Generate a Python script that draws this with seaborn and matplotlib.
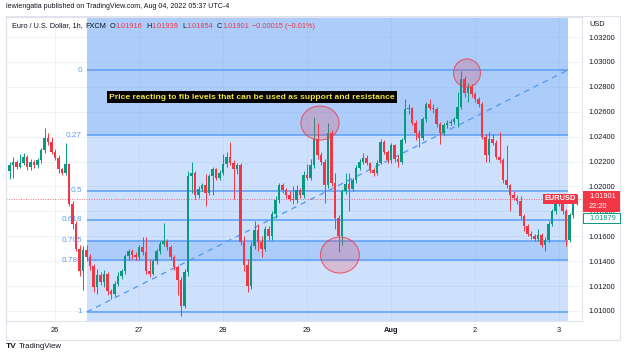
import numpy as np
import pandas as pd
import matplotlib
matplotlib.use("Agg")
import matplotlib.pyplot as plt
from matplotlib.patches import Ellipse, Rectangle
import seaborn as sns

# EURUSD 1h (FXCM), Jul 25 10:00 -> Aug 3 05:00 UTC-4, weekend hours skipped.
# bar index 0 = Jul 26 00:00, 24 bars per day
first_index = -14
first_open = 1.0240
closes = [
    1.0212, 1.0217, 1.0220, 1.0216, 1.0219, 1.0224, 1.0216, 1.0220, 1.0217, 1.0221,
    1.0229, 1.0239, 1.0236, 1.0228, 1.0223, 1.0214, 1.0211, 1.0218, 1.0186, 1.0170,
    1.0150, 1.0132, 1.0149, 1.0143, 1.0136, 1.0119, 1.0129, 1.0123, 1.0130, 1.0116,
    1.0114, 1.0122, 1.0128, 1.0132, 1.0144, 1.0148, 1.0145, 1.0143, 1.0151, 1.0147,
    1.0132, 1.0130, 1.0140, 1.0148, 1.0154, 1.0156, 1.0151, 1.0143, 1.0135, 1.0125,
    1.0104, 1.0131, 1.0208, 1.0211, 1.0193, 1.0198, 1.0201, 1.0195, 1.0208, 1.0214,
    1.0207, 1.0211, 1.0218, 1.0224, 1.0219, 1.0214, 1.0217, 1.0155, 1.0137, 1.0120,
    1.0152, 1.0165, 1.0155, 1.0150, 1.0166, 1.0160, 1.0178, 1.0189, 1.0201, 1.0197,
    1.0193, 1.0190, 1.0189, 1.0197, 1.0193, 1.0209, 1.0207, 1.0217, 1.0238, 1.0225,
    1.0220, 1.0201, 1.0243, 1.0203, 1.0175, 1.0160, 1.0196, 1.0202, 1.0198, 1.0205,
    1.0215, 1.0220, 1.0223, 1.0219, 1.0213, 1.0211, 1.0219, 1.0236, 1.0228, 1.0221,
    1.0233, 1.0222, 1.0220, 1.0237, 1.0262, 1.0263, 1.0251, 1.0243, 1.0239, 1.0254,
    1.0266, 1.0263, 1.0262, 1.0250, 1.0243, 1.0249, 1.0251, 1.0252, 1.0254, 1.0264,
    1.0286, 1.0275, 1.0280, 1.0274, 1.0270, 1.0266, 1.0240, 1.0225, 1.0238, 1.0235,
    1.0224, 1.0221, 1.0205, 1.0201, 1.0193, 1.0191, 1.0188, 1.0176, 1.0168, 1.0162,
    1.0160, 1.0158, 1.0161, 1.0153, 1.0157, 1.0170, 1.0180, 1.0186, 1.0190, 1.0180,
    1.0157, 1.0177, 1.01916, 1.01901,
]
highs = [
    1.0249, 1.0220, 1.0224, 1.0221, 1.0226, 1.0227, 1.0225, 1.0222, 1.0221, 1.0223,
    1.0231, 1.0247, 1.0243, 1.0240, 1.0230, 1.0225, 1.0215, 1.0235, 1.0219, 1.0188,
    1.0172, 1.0153, 1.0152, 1.0153, 1.0146, 1.0138, 1.0134, 1.0131, 1.0133, 1.0131,
    1.0118, 1.0124, 1.0131, 1.0134, 1.0146, 1.0150, 1.0150, 1.0147, 1.0153, 1.0159,
    1.0159, 1.0141, 1.0142, 1.0150, 1.0156, 1.0171, 1.0158, 1.0153, 1.0145, 1.0137,
    1.0127, 1.0134, 1.0212, 1.0220, 1.0212, 1.0200, 1.0203, 1.0210, 1.0210, 1.0216,
    1.0215, 1.0213, 1.0226, 1.0228, 1.0236, 1.0221, 1.0219, 1.0219, 1.0160, 1.0142,
    1.0155, 1.0172, 1.0170, 1.0160, 1.0168, 1.0168, 1.0180, 1.0192, 1.0203, 1.0203,
    1.0199, 1.0196, 1.0200, 1.0201, 1.0199, 1.0212, 1.0218, 1.0222, 1.0256, 1.0251,
    1.0228, 1.0222, 1.0251, 1.0245, 1.0211, 1.0177, 1.0198, 1.0211, 1.0211, 1.0207,
    1.0217, 1.0222, 1.0227, 1.0225, 1.0220, 1.0215, 1.0221, 1.0238, 1.0237, 1.0229,
    1.0235, 1.0234, 1.0225, 1.0239, 1.0270, 1.0266, 1.0264, 1.0253, 1.0245, 1.0256,
    1.0268, 1.0270, 1.0266, 1.0264, 1.0252, 1.0251, 1.0253, 1.0254, 1.0256, 1.0276,
    1.0293, 1.0289, 1.0283, 1.0282, 1.0276, 1.0272, 1.0268, 1.0242, 1.0244, 1.0242,
    1.0237, 1.0244, 1.0223, 1.0233, 1.0202, 1.0196, 1.0193, 1.0192, 1.0178, 1.0170,
    1.0164, 1.0162, 1.0166, 1.0163, 1.0159, 1.0172, 1.0182, 1.0188, 1.0192, 1.0191,
    1.0182, 1.0179, 1.0193, 1.01939,
]
lows = [
    1.0204, 1.0206, 1.0207, 1.0214, 1.0215, 1.0217, 1.0213, 1.0213, 1.0215, 1.0215,
    1.0219, 1.0227, 1.0233, 1.0226, 1.0221, 1.0211, 1.0209, 1.0209, 1.0184, 1.0166,
    1.0148, 1.0128, 1.0117, 1.0140, 1.0133, 1.0115, 1.0114, 1.0121, 1.0119, 1.0113,
    1.0110, 1.0112, 1.0120, 1.0126, 1.0130, 1.0141, 1.0142, 1.0141, 1.0141, 1.0145,
    1.0130, 1.0127, 1.0129, 1.0138, 1.0146, 1.0152, 1.0149, 1.0141, 1.0133, 1.0113,
    1.0096, 1.0102, 1.0128, 1.0195, 1.0190, 1.0191, 1.0196, 1.0184, 1.0193, 1.0193,
    1.0205, 1.0205, 1.0209, 1.0216, 1.0217, 1.0190, 1.0210, 1.0153, 1.0132, 1.0115,
    1.0118, 1.0150, 1.0148, 1.0143, 1.0148, 1.0157, 1.0157, 1.0175, 1.0187, 1.0195,
    1.0191, 1.0188, 1.0186, 1.0187, 1.0191, 1.0191, 1.0205, 1.0205, 1.0215, 1.0222,
    1.0217, 1.0187, 1.0199, 1.0200, 1.0166, 1.0147, 1.0153, 1.0194, 1.0180, 1.0196,
    1.0203, 1.0213, 1.0218, 1.0217, 1.0211, 1.0208, 1.0209, 1.0218, 1.0226, 1.0219,
    1.0219, 1.0220, 1.0216, 1.0218, 1.0235, 1.0258, 1.0249, 1.0237, 1.0232, 1.0237,
    1.0252, 1.0261, 1.0259, 1.0248, 1.0234, 1.0241, 1.0247, 1.0249, 1.0250, 1.0248,
    1.0262, 1.0272, 1.0268, 1.0272, 1.0268, 1.0264, 1.0238, 1.0220, 1.0220, 1.0233,
    1.0222, 1.0219, 1.0203, 1.0199, 1.0180, 1.0189, 1.0186, 1.0174, 1.0164, 1.0160,
    1.0158, 1.0156, 1.0156, 1.0151, 1.0148, 1.0155, 1.0168, 1.0178, 1.0184, 1.0178,
    1.0152, 1.0155, 1.0175, 1.01854,
]

day_ticks = [0, 24, 48, 72, 96, 120, 144]
day_labels = ["26", "27", "28", "29", "Aug", "2", "3"]
price_ticks = [1.010, 1.012, 1.014, 1.016, 1.018, 1.020, 1.022, 1.024, 1.026, 1.028, 1.030, 1.032]

# fib retracement drawing (anchors in bar index / price)
fib_start, fib_end = 9.06, 146.6
fib_low, fib_high = 1.00992, 1.02935
fib_levels = [0, 0.27, 0.5, 0.618, 0.705, 0.786, 1]
fib_labels = ["0", "0.27", "0.5", "0.618", "0.705", "0.786", "1"]

# circles drawn on the chart: (bar, price, width in bars, height in price)
circles = [(75.7, 1.02509, 10.9, 0.00273),
           (81.4, 1.01449, 11.1, 0.00289),
           (117.7, 1.02911, 7.7, 0.00225)]
note = "Price reacting to fib levels that can be used as support and resistance"

GREEN = "#089981"
RED = "#f23645"
FIB = "#5b9cf6"
DARK = "#131722"
GRID = "#eef0f5"
FRAME = "#e0e3eb"

sns.set_theme(style="white")
plt.rcParams["font.family"] = ["Liberation Sans", "DejaVu Sans"]

W, H = 624, 356
def fx(px):
    return px / W
def fy(py):
    return 1 - py / H

fig = plt.figure(figsize=(W / 100, H / 100), dpi=100)
ax = fig.add_axes([fx(6), fy(321), (582 - 6) / W, (321 - 17) / H])
ax.set_facecolor("white")

# candles
idx = np.arange(first_index, first_index + len(closes))
opens = [first_open] + closes[:-1]
df = pd.DataFrame({"idx": idx, "open": opens, "high": highs, "low": lows, "close": closes})
colors = np.where(df["close"] >= df["open"], GREEN, RED)
body_low = df[["open", "close"]].min(axis=1)
body_h = (df["close"] - df["open"]).abs().clip(lower=0.00003)
ax.vlines(df["idx"], df["low"], df["high"], colors=colors, lw=0.7, zorder=4)
ax.bar(df["idx"], body_h, bottom=body_low, width=0.62, color=colors, linewidth=0, zorder=5)

# fib retracement
ymin, ymax = 1.009195, 1.033606
span = fib_high - fib_low
lvl = [fib_high - f * span for f in fib_levels]
bands = [(ymax, lvl[0], 0.5), (lvl[0], lvl[1], 0.5), (lvl[1], lvl[4], 0.3),
         (lvl[4], lvl[5], 0.5), (lvl[5], lvl[6], 0.3), (lvl[6], ymin, 0.3)]
for top, bot, a in bands:
    ax.fill_between([fib_start, fib_end], bot, top, color=FIB, alpha=a, lw=0, zorder=1)
ax.hlines(lvl, fib_start, fib_end, color=FIB, lw=1.1, zorder=2)
for p, lab in zip(lvl, fib_labels):
    ax.annotate(lab, (fib_start, p), xytext=(-3.4, 0), textcoords="offset points",
                ha="right", va="center", color=FIB, fontsize=5.9, zorder=1.5)
sns.lineplot(x=[fib_start, fib_end], y=[fib_low, fib_high], ax=ax, color=FIB,
             lw=1.0, linestyle=(0, (4, 3.5)), estimator=None, zorder=3)

# last price line
ax.axhline(closes[-1], color=RED, lw=0.7, ls=(0, (1, 1.5)), alpha=0.7, zorder=3)

for cx, cy, w, h in circles:
    ax.add_patch(Ellipse((cx, cy), w, h, facecolor=(0.95, 0.21, 0.27, 0.22),
                         edgecolor=(0.95, 0.21, 0.27, 0.75), lw=0.8, zorder=7))

ax.text(56.3, 1.02718, note, color="#f5e444", fontsize=6.1, fontweight="bold",
        ha="center", va="center", zorder=8,
        bbox=dict(facecolor="black", edgecolor="none", pad=1.6))

ax.set_xlim(-14, 150.57)
ax.set_ylim(ymin, ymax)
ax.set_xticks(day_ticks)
ax.set_xticklabels(day_labels)
for t in ax.get_xticklabels():
    if t.get_text() == "Aug":
        t.set_fontweight("bold")
ax.set_yticks(price_ticks)
ax.set_yticklabels([f"{p:.5f}" for p in price_ticks])
ax.yaxis.tick_right()
ax.tick_params(axis="x", length=0, pad=4.5, labelsize=5.3, labelcolor=DARK)
ax.tick_params(axis="y", length=0, pad=4.3, labelsize=5.3, labelcolor=DARK)
ax.grid(True, color=GRID, lw=0.6)
ax.set_axisbelow(True)
for s in ax.spines.values():
    s.set_color(FRAME)
    s.set_linewidth(0.8)
ax.set_xlabel("")
ax.set_ylabel("")

# outer frame of the chart widget
fig.patches.append(Rectangle((fx(6), fy(340)), (620 - 6) / W, (340 - 16) / H,
                             transform=fig.transFigure, fill=False, edgecolor=FRAME, lw=0.8))

# header + legend
fig.text(fx(6), fy(7), "lewiengatia published on TradingView.com, Aug 04, 2022 05:37 UTC-4",
         fontsize=5.15, color=DARK, va="center")
renderer = fig.canvas.get_renderer()
parts = [("Euro / U.S. Dollar, 1h,", DARK, 3), ("FXCM", DARK, 3.5),
         ("O", DARK, 0.3), ("1.01916", RED, 3.5), ("H", DARK, 0.3), ("1.01939", RED, 3.5),
         ("L", DARK, 0.3), ("1.01854", RED, 3.5), ("C", DARK, 0.3), ("1.01901", RED, 3.5),
         ("\u22120.00015 (\u22120.01%)", RED, 0)]
xpos = 11.7
for txt, col, gap in parts:
    t = fig.text(fx(xpos), fy(26), txt, color=col, fontsize=5.3, va="center")
    xpos += t.get_window_extent(renderer).width + gap

# price scale labels
fig.text(fx(589), fy(25), "USD", fontsize=5.3, color=DARK, va="center")
fig.text(fx(560), fy(199), "EURUSD", fontsize=5.3, color="white", fontweight="bold",
         ha="center", va="center", bbox=dict(facecolor=RED, edgecolor="none", pad=1.3))
fig.patches.append(Rectangle((fx(583), fy(212)), 37 / W, 21 / H, transform=fig.transFigure,
                             facecolor=RED, edgecolor="none"))
fig.text(fx(589), fy(197), "1.01901", fontsize=5.3, color="white", va="center")
fig.text(fx(589), fy(206), "22:20", fontsize=5.3, color="white", va="center")
fig.patches.append(Rectangle((fx(583), fy(223)), 37 / W, 10 / H, transform=fig.transFigure,
                             facecolor="white", edgecolor=GREEN, lw=0.7))
fig.text(fx(589), fy(218), "1.01879", fontsize=5.3, color=GREEN, va="center")

# footer logo
fig.text(fx(6), fy(347), "TV", fontsize=6, color=DARK, fontweight="bold", va="center")
fig.text(fx(19), fy(347), "TradingView", fontsize=5.6, color=DARK, va="center")

fig.savefig("out.png", dpi=100)
